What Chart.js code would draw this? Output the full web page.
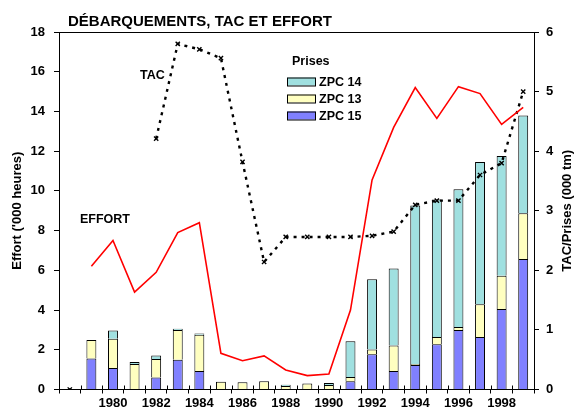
<!DOCTYPE html>
<html><head><meta charset="utf-8">
<script src="https://cdn.jsdelivr.net/npm/chart.js@4/dist/chart.umd.min.js"></script>
<style>html,body{margin:0;padding:0;background:#fff;}#wrap{width:582px;height:412px;position:relative;}</style>
</head><body><div id="wrap"><canvas id="c" width="582" height="412"></canvas></div>
<script>
const titleText = 'DÉBARQUEMENTS, TAC ET EFFORT';
const years = ['1978','1979','1980','1981','1982','1983','1984','1985','1986','1987','1988','1989','1990','1991','1992','1993','1994','1995','1996','1997','1998','1999'];
const xTickLabels = ['','','1980','','1982','','1984','','1986','','1988','','1990','','1992','','1994','','1996','','1998',''];
const effort = [null,6.2,7.5,4.9,5.9,7.9,8.4,1.82,1.45,1.69,0.98,0.7,0.78,4.0,10.55,13.2,15.2,13.65,15.25,14.9,13.35,14.2];
const tac = [0,null,null,null,4.21,5.80,5.71,5.56,3.82,2.14,2.56,2.56,2.56,2.56,2.58,2.65,3.10,3.17,3.17,3.60,3.80,5.00];
const zpc15 = [null,0.52,0.36,null,0.2,0.5,0.31,null,null,null,null,null,null,0.14,0.59,0.31,0.41,0.76,1.0,0.88,1.35,2.19];
const zpc13 = [null,0.31,0.49,0.43,0.31,0.5,0.61,0.13,0.12,0.14,0.06,0.1,0.075,0.07,0.08,0.43,0.02,0.12,0.05,0.55,0.56,0.77];
const zpc14 = [null,null,0.14,0.03,0.06,0.02,0.02,null,null,null,0.02,null,0.035,0.6,1.18,1.29,2.66,2.31,2.31,2.39,2.01,1.64];
const leftTicks = [0,2,4,6,8,10,12,14,16,18];
const rightTicks = [0,1,2,3,4,5,6];

const FONT = '"Liberation Sans", Arial, sans-serif';
Chart.defaults.color = '#000';
Chart.defaults.font.family = FONT;

const annot = {
  id: 'annot',
  afterDraw(chart) {
    const ctx = chart.ctx, a = chart.chartArea, xs = chart.scales.x;
    ctx.save();
    ctx.strokeStyle = '#000'; ctx.lineWidth = 1;
    ctx.beginPath(); ctx.moveTo(a.left, Math.round(a.top) + 0.5); ctx.lineTo(a.right, Math.round(a.top) + 0.5); ctx.stroke();
    // inner half of x-axis tick marks (ticks cross the axis)
    const n = years.length;
    ctx.beginPath();
    for (let i = 1; i < n; i++) {
      const px = Math.round((xs.getPixelForTick(i - 1) + xs.getPixelForTick(i)) / 2) + 0.5;
      ctx.moveTo(px, a.bottom); ctx.lineTo(px, a.bottom - 4);
    }
    ctx.stroke();
    ctx.fillStyle = '#000';
    ctx.textAlign = 'left'; ctx.textBaseline = 'alphabetic';
    ctx.font = 'bold 15px ' + FONT;
    ctx.fillText(titleText, 68, 26);
    // legend
    ctx.font = 'bold 12.5px ' + FONT;
    ctx.fillText('Prises', 292, 64.5);
    const bars = chart.data.datasets.filter(d => d.type === 'bar').slice().reverse();
    bars.forEach((d, i) => {
      const y = 77.5 + i * 17;
      ctx.fillStyle = d.backgroundColor;
      ctx.fillRect(287, y, 29, 8);
      ctx.strokeStyle = '#000'; ctx.lineWidth = 1;
      ctx.strokeRect(287.5, y + 0.5, 28, 8);
      ctx.fillStyle = '#000';
      ctx.fillText(d.label, 319, y + 8.5);
    });
    // annotations
    ctx.fillText('TAC', 140, 79);
    ctx.fillText('EFFORT', 80, 223);
    // right axis title
    ctx.save();
    ctx.translate(571, (a.top + a.bottom) / 2);
    ctx.rotate(-Math.PI / 2);
    ctx.textAlign = 'center'; ctx.textBaseline = 'alphabetic';
    ctx.font = 'bold 13px ' + FONT;
    ctx.fillText('TAC/Prises (000 tm)', 0, 0);
    ctx.restore();
    ctx.restore();
  }
};

const barCommon = { type: 'bar', yAxisID: 'y1', stack: 'prises', borderColor: '#000', borderWidth: 1, barPercentage: 0.46, categoryPercentage: 1, order: 2 };

new Chart(document.getElementById('c'), {
  type: 'bar',
  data: {
    labels: years,
    datasets: [
      Object.assign({ label: 'ZPC 15', data: zpc15, backgroundColor: '#8080ff' }, barCommon),
      Object.assign({ label: 'ZPC 13', data: zpc13, backgroundColor: '#ffffc0' }, barCommon),
      Object.assign({ label: 'ZPC 14', data: zpc14, backgroundColor: '#a0e0e0' }, barCommon),
      { type: 'line', label: 'EFFORT', data: effort, yAxisID: 'y', borderColor: '#ff0000', borderWidth: 1.6, pointRadius: 0, tension: 0, spanGaps: false, order: 0, stack: 'effort' },
      { type: 'line', label: 'TAC', data: tac, yAxisID: 'y1', stack: 'tac', borderColor: '#000', borderWidth: 2.4, borderDash: [3, 5], pointStyle: 'crossRot', pointRadius: 3, pointBorderWidth: 1.4, pointBorderColor: '#000', pointBackgroundColor: '#000', tension: 0, spanGaps: false, order: 0 }
    ]
  },
  options: {
    responsive: false,
    animation: false,
    devicePixelRatio: 1,
    layout: { padding: { top: 32, left: 0, right: 0, bottom: 0 } },
    plugins: { legend: { display: false }, tooltip: { enabled: false }, title: { display: false } },
    scales: {
      x: {
        stacked: true,
        offset: true,
        grid: { display: true, drawOnChartArea: false, offset: true, color: '#000', tickLength: 4, tickWidth: 1 },
        border: { color: '#000', width: 1 },
        ticks: { autoSkip: false, maxRotation: 0, padding: 2, font: { size: 13, weight: 'bold' }, callback: (v, i) => xTickLabels[i] },
        afterFit(s) { s.height = 22.5; }
      },
      y: {
        position: 'left', min: 0, max: 18,
        afterBuildTicks(s) { s.ticks = leftTicks.map(v => ({ value: v })); },
        grid: { drawOnChartArea: false, color: '#000', tickLength: 5 },
        border: { color: '#000', width: 1 },
        ticks: { padding: 9, font: { size: 13, weight: 'bold' } },
        title: { display: true, text: "Effort ('000 heures)", font: { size: 13, weight: 'bold' }, padding: { top: 10, bottom: 0 } },
        afterFit(s) { s.width = 59; }
      },
      y1: {
        position: 'right', min: 0, max: 6, stacked: true,
        afterBuildTicks(s) { s.ticks = rightTicks.map(v => ({ value: v })); },
        grid: { drawOnChartArea: false, color: '#000', tickLength: 5 },
        border: { color: '#000', width: 1 },
        ticks: { padding: 7, font: { size: 13, weight: 'bold' } },
        afterFit(s) { s.width = 48; }
      }
    }
  },
  plugins: [annot]
});
</script>
</body></html>
